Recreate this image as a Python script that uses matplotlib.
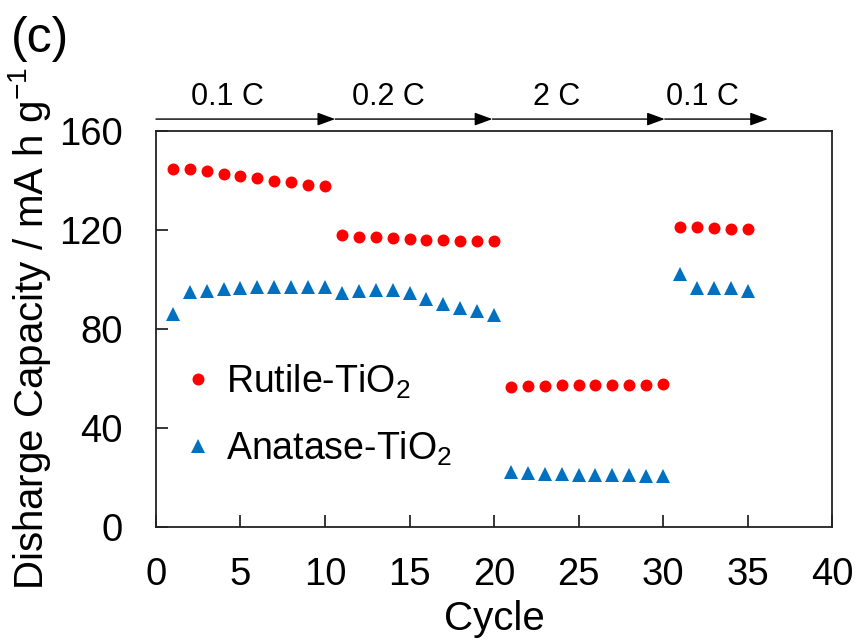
import matplotlib
matplotlib.use("Agg")
import matplotlib.pyplot as plt
from matplotlib.lines import Line2D

plt.rcParams['font.family'] = ['Liberation Sans', 'DejaVu Sans']
plt.rcParams['mathtext.fontset'] = 'custom'
plt.rcParams['mathtext.rm'] = 'Liberation Sans'
plt.rcParams['mathtext.it'] = 'Liberation Sans'

# Discharge capacity per cycle (mA h g^-1)
cycles = list(range(1, 36))
rutile = [144.6, 144.6, 143.8, 142.6, 141.6, 140.8, 139.6, 139.1, 138.2, 137.7,
          118.0, 117.2, 116.9, 116.5, 116.2, 116.0, 115.8, 115.5, 115.4, 115.3,
          56.6, 57.0, 57.0, 57.1, 57.3, 57.3, 57.3, 57.4, 57.4, 57.7,
          121.1, 120.9, 120.8, 120.4, 120.1]
anatase = [85.8, 94.7, 95.4, 95.9, 96.5, 96.8, 96.8, 97.0, 97.0, 97.0,
           94.3, 95.4, 95.8, 95.7, 94.3, 92.2, 90.0, 88.4, 87.0, 85.4,
           22.1, 21.5, 21.2, 21.2, 21.0, 20.7, 20.7, 20.7, 20.4, 20.3,
           102.3, 96.6, 96.6, 96.6, 95.4]

# C-rate segments: (start cycle, end cycle, label)
rate_starts = [0, 10.6, 19.9, 30.1]
rate_ends = [10.6, 19.9, 30.1, 36.2]
rate_labels = ['0.1 C', '0.2 C', '2 C', '0.1 C']
rate_label_x = [4.2, 13.75, 23.7, 32.3]

xticks = [0, 5, 10, 15, 20, 25, 30, 35, 40]
yticks = [0, 40, 80, 120, 160]

red = '#FF0000'
blue = '#0070C0'
tick_fs = 27.5
label_fs = 29

fig = plt.figure(figsize=(8.57, 6.42), dpi=100)
ax = fig.add_axes([0.182, 0.1796, 0.789, 0.6168])

ax.plot(cycles, rutile, linestyle='none', marker='o', color=red, markersize=8.6,
        markeredgewidth=0)
ax.plot(cycles, anatase, linestyle='none', marker='^', color=blue, markersize=10.6,
        markeredgewidth=0)

ax.set_xlim(0, 40)
ax.set_ylim(0, 160)
ax.set_xticks(xticks)
ax.set_yticks(yticks)
ax.tick_params(direction='in', length=8.5, width=1.1, labelsize=tick_fs)
ax.tick_params(axis='x', pad=22)
ax.tick_params(axis='y', pad=24)
for s in ax.spines.values():
    s.set_linewidth(1.3)
    s.set_color('#222222')

ax.set_xlabel('Cycle', fontsize=label_fs, labelpad=5)
ax.set_ylabel('Disharge Capacity / mA h g$^{\\mathregular{-1}}$', fontsize=label_fs,
              labelpad=4)

# Rate arrows above the plot
for x0, x1 in zip(rate_starts, rate_ends):
    ax.annotate('', xy=(x1, 164.7), xytext=(x0, 164.7), xycoords='data',
                annotation_clip=False,
                arrowprops=dict(arrowstyle='-|>,head_length=0.6,head_width=0.22',
                                color='black', lw=1.0,
                                mutation_scale=18, shrinkA=0, shrinkB=0))
for xl, lab in zip(rate_label_x, rate_labels):
    ax.text(xl, 170.4, lab, fontsize=22, ha='center', va='baseline',
            clip_on=False)

handles = [Line2D([], [], linestyle='none', marker='o', color=red, markersize=8.6,
                  markeredgewidth=0),
           Line2D([], [], linestyle='none', marker='^', color=blue, markersize=10,
                  markeredgewidth=0)]
ax.legend(handles, ['Rutile-TiO$_{\\mathregular{2}}$', 'Anatase-TiO$_{\\mathregular{2}}$'],
          loc='upper left', bbox_to_anchor=(0.045, 0.415), frameon=False,
          fontsize=27, handlelength=0.6, handletextpad=0.45, labelspacing=0.77,
          borderaxespad=0, borderpad=0)

fig.text(0.013, 0.939, '(c)', fontsize=36, ha='left', va='center')

fig.savefig('out.png', dpi=100)
